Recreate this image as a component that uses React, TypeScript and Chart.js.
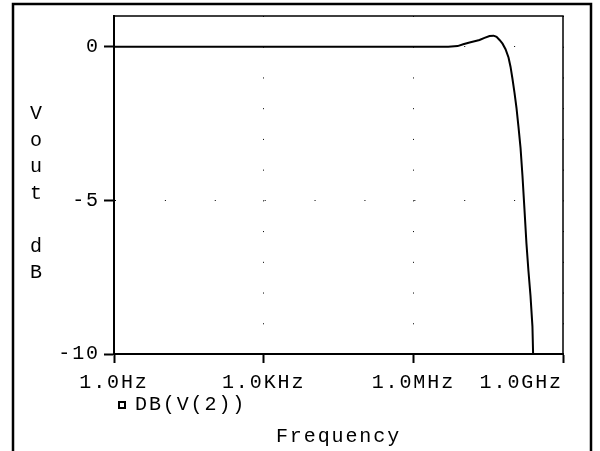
import React, { useEffect, useRef } from 'react';
import { Chart, registerables } from 'chart.js';

Chart.register(...registerables);

// Frequency sweep (Hz) and response DB(V(2)) in dB
const FREQ_HZ = [
  1, 1e3, 1e6, 5.0e6, 7.71e6, 1.0e7, 1.34e7, 1.69e7, 2.12e7, 2.67e7,
  3.37e7, 4.06e7, 4.66e7, 5.35e7, 6.14e7, 7.05e7, 8.09e7, 8.87e7, 9.72e7, 1.067e8,
  1.17e8, 1.28e8, 1.41e8, 1.54e8, 1.69e8, 1.85e8, 2.03e8, 2.23e8, 2.44e8, 2.56e8,
];
const DB_V2 = [
  0, 0, 0, 0, 0.02, 0.08, 0.14, 0.18, 0.22, 0.29,
  0.35, 0.36, 0.32, 0.22, 0.1, -0.08, -0.35, -0.65, -1.05, -1.5,
  -2.0, -2.6, -3.3, -4.2, -5.3, -6.4, -7.3, -8.1, -9.1, -10.5,
];

const X_TICKS = [1, 1e3, 1e6, 1e9];
const X_TICK_LABELS = ['1.0Hz', '1.0KHz', '1.0MHz', '1.0GHz'];
const Y_TICKS = [-10, -5, 0];
const Y_TICK_LABELS = ['-10', '-5', '0'];
const X_MIN = 1;
const X_MAX = 1e9;
const Y_MIN = -10;
const Y_MAX = 1;

const SERIES_LABEL = 'DB(V(2))';
const X_TITLE = 'Frequency';
const Y_TITLE = 'Vout dB';

const FONT_FAMILY = "'Liberation Mono', 'Courier New', monospace";
const FONT = { family: FONT_FAMILY, size: 20, weight: 'normal' as const, lineHeight: 1.2 };
const LETTER_SPACING = '1.9px';

const letterSpacingPlugin = {
  id: 'letterSpacing',
  beforeUpdate(chart: any) {
    chart.ctx.letterSpacing = LETTER_SPACING;
  },
  beforeDraw(chart: any) {
    chart.ctx.letterSpacing = LETTER_SPACING;
  },
};

const framePlugin = {
  id: 'frame',
  beforeDraw(chart: any) {
    const { ctx, width, height } = chart;
    ctx.save();
    ctx.fillStyle = '#fff';
    ctx.fillRect(0, 0, width, height);
    ctx.strokeStyle = '#000';
    ctx.lineWidth = 2.5;
    ctx.beginPath();
    ctx.moveTo(13, height + 5);
    ctx.lineTo(13, 4);
    ctx.lineTo(591, 4);
    ctx.lineTo(591, height + 5);
    ctx.stroke();
    ctx.restore();
  },
  afterDraw(chart: any) {
    const { ctx, chartArea } = chart;
    ctx.save();
    ctx.strokeStyle = '#000';
    ctx.lineWidth = 1.5;
    ctx.beginPath();
    ctx.moveTo(chartArea.left, chartArea.top);
    ctx.lineTo(chartArea.right, chartArea.top);
    ctx.lineTo(chartArea.right, chartArea.bottom);
    ctx.stroke();
    // stacked vertical axis title
    ctx.fillStyle = '#000';
    ctx.font = `20px ${FONT_FAMILY}`;
    ctx.letterSpacing = '0px';
    ctx.textAlign = 'center';
    ctx.textBaseline = 'alphabetic';
    const chars = Y_TITLE.split('');
    chars.forEach((c, i) => {
      if (c !== ' ') ctx.fillText(c, chartArea.left - 78, chartArea.top + 103 + 26.5 * i);
    });
    ctx.restore();
  },
};

export default function App() {
  const canvasRef = useRef<HTMLCanvasElement | null>(null);

  useEffect(() => {
    if (!canvasRef.current) return;
    const chart = new Chart(canvasRef.current, {
      type: 'line',
      data: {
        datasets: [
          {
            label: SERIES_LABEL,
            data: FREQ_HZ.map((f, i) => ({ x: f, y: DB_V2[i] })),
            borderColor: '#000',
            backgroundColor: '#fff',
            borderWidth: 2,
            pointRadius: 0,
            tension: 0,
            fill: false,
            clip: 0,
          } as any,
        ],
      },
      options: {
        animation: false,
        responsive: false,
        maintainAspectRatio: false,
        events: [],
        layout: { padding: { left: 0, right: 37, top: 16, bottom: 0 } },
        scales: {
          x: {
            type: 'logarithmic',
            min: X_MIN,
            max: X_MAX,
            afterBuildTicks: (s: any) => {
              s.ticks = X_TICKS.map((v) => ({ value: v }));
            },
            afterFit: (s: any) => {
              s.height = 36;
              s.paddingLeft = 0;
              s.paddingRight = 0;
            },
            ticks: {
              autoSkip: false,
              maxRotation: 0,
              minRotation: 0,
              padding: 8,
              color: '#000',
              font: FONT,
              callback: (_v: any, i: number) => {
                const lbl = X_TICK_LABELS[i];
                return i === X_TICK_LABELS.length - 1 ? lbl + ' '.repeat(lbl.length) : lbl;
              },
            },
            grid: {
              color: '#000',
              lineWidth: 1,
              tickLength: 9,
              tickWidth: 2,
              tickColor: '#000',
            },
            border: {
              display: true,
              color: '#000',
              width: 2,
              dash: (ctx: any) => {
                const y = ctx.chart.scales.y;
                const step = Math.abs(y.getPixelForValue(-1) - y.getPixelForValue(0));
                return [1, step - 1];
              },
            },
          } as any,
          y: {
            type: 'linear',
            min: Y_MIN,
            max: Y_MAX,
            afterBuildTicks: (s: any) => {
              s.ticks = Y_TICKS.map((v) => ({ value: v }));
            },
            afterFit: (s: any) => {
              s.width = 114;
              s.paddingTop = 0;
              s.paddingBottom = 0;
            },
            ticks: {
              padding: 4,
              color: '#000',
              font: FONT,
              callback: (_v: any, i: number) => Y_TICK_LABELS[i],
            },
            grid: {
              color: '#000',
              lineWidth: 1,
              tickLength: 10,
              tickWidth: 2,
              tickColor: '#000',
            },
            border: {
              display: true,
              color: '#000',
              width: 2,
              dash: (ctx: any) => {
                const x = ctx.chart.scales.x;
                const step = Math.abs(x.getPixelForValue(10) - x.getPixelForValue(1));
                return [1, step - 1];
              },
            },
          } as any,
        },
        plugins: {
          legend: {
            display: true,
            position: 'bottom',
            align: 'start',
            fullSize: false,
            labels: {
              usePointStyle: true,
              pointStyle: 'rect',
              boxWidth: 6,
              boxHeight: 6,
              padding: 5,
              color: '#000',
              font: FONT,
            },
          } as any,
          title: {
            display: true,
            text: X_TITLE,
            position: 'bottom',
            fullSize: false,
            color: '#000',
            font: FONT,
            padding: { top: 0, bottom: 2 },
          } as any,
          tooltip: { enabled: false },
        },
      } as any,
      plugins: [letterSpacingPlugin, framePlugin],
    });
    return () => chart.destroy();
  }, []);

  return (
    <div style={{ position: 'fixed', left: 0, top: 0, width: 600, height: 451, background: '#fff' }}>
      <canvas ref={canvasRef} width={600} height={451} style={{ display: 'block' }} />
    </div>
  );
}
